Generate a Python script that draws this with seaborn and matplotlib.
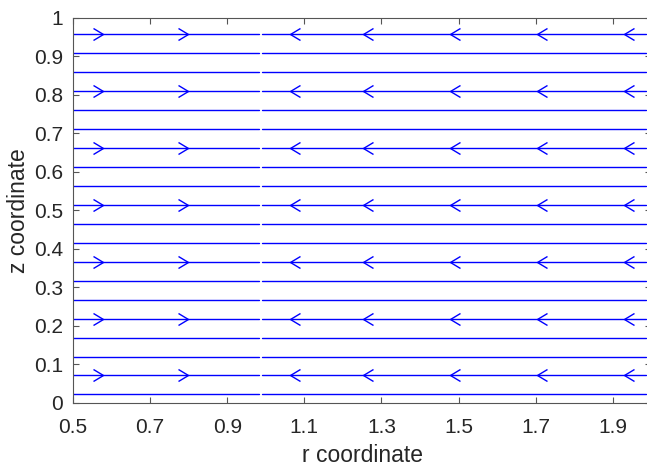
import numpy as np
import pandas as pd
import matplotlib
matplotlib.use("Agg")
import matplotlib.pyplot as plt
from matplotlib.path import Path
import seaborn as sns

# Streamline heights (z) and the r-extent of the two flow regions
z_lines = [0.023, 0.072, 0.120, 0.170, 0.219, 0.268, 0.318, 0.367, 0.416,
           0.465, 0.514, 0.564, 0.613, 0.662, 0.712, 0.761, 0.810, 0.860,
           0.909, 0.958]
r_inner = [0.500, 0.983]   # outward flow region
r_outer = [0.991, 1.985]   # inward flow region

# Streamlines carrying direction arrows and the arrow positions along r
z_arrows = [0.072, 0.219, 0.367, 0.514, 0.662, 0.810, 0.958]
r_arrows_out = [0.577, 0.799]
r_arrows_in = [1.064, 1.252, 1.479, 1.704, 1.929]

x_ticks = [0.5, 0.7, 0.9, 1.1, 1.3, 1.5, 1.7, 1.9]
y_ticks = [0, 0.1, 0.2, 0.3, 0.4, 0.5, 0.6, 0.7, 0.8, 0.9, 1.0]

sns.set_style("ticks")
plt.rcParams["font.family"] = ["Liberation Sans", "DejaVu Sans"]

rows = []
uid = 0
for z in z_lines:
    for seg in (r_inner, r_outer):
        for r in seg:
            rows.append({"r": r, "z": z, "line": uid})
        uid += 1
df = pd.DataFrame(rows)

fig = plt.figure(figsize=(6.47, 4.71), dpi=100)
ax = fig.add_axes([0.1128, 0.1444, 0.894, 0.8174])

sns.lineplot(data=df, x="r", y="z", units="line", estimator=None, sort=False,
             color=(0, 0, 1), lw=1.0, ax=ax, legend=False)

# Chevron markers with the tip on the data point
right_chev = Path([(-1, 0.6), (0, 0), (-1, -0.6)],
                  [Path.MOVETO, Path.LINETO, Path.LINETO])
left_chev = Path([(1, 0.6), (0, 0), (1, -0.6)],
                 [Path.MOVETO, Path.LINETO, Path.LINETO])

for z in z_arrows:
    ax.plot(r_arrows_out, [z] * len(r_arrows_out), ls="none", marker=right_chev,
            ms=14.4, mew=1.0, mec=(0, 0, 1), mfc="none")
    ax.plot(r_arrows_in, [z] * len(r_arrows_in), ls="none", marker=left_chev,
            ms=14.4, mew=1.0, mec=(0, 0, 1), mfc="none")

ax.set_xlim(0.5, 2.0)
ax.set_ylim(0, 1)
ax.set_xticks(x_ticks)
ax.set_xticklabels([f"{v:g}" for v in x_ticks])
ax.set_yticks(y_ticks)
ax.set_yticklabels([f"{v:g}" for v in y_ticks])

axis_col = "#262626"
for side in ["left", "bottom", "top", "right"]:
    ax.spines[side].set_visible(True)
    ax.spines[side].set_color("#555555")
    ax.spines[side].set_linewidth(0.8)
ax.tick_params(direction="in", length=4, width=0.8, colors="#555555",
               labelcolor=axis_col, labelsize=15, top=True, right=True)
ax.tick_params(axis="x", pad=11)
ax.tick_params(axis="y", pad=7)

ax.set_xlabel("r coordinate", fontsize=16.5, color=axis_col, labelpad=5)
ax.set_ylabel("z coordinate", fontsize=16.5, color=axis_col, labelpad=3)

fig.savefig("out.png", dpi=100)
